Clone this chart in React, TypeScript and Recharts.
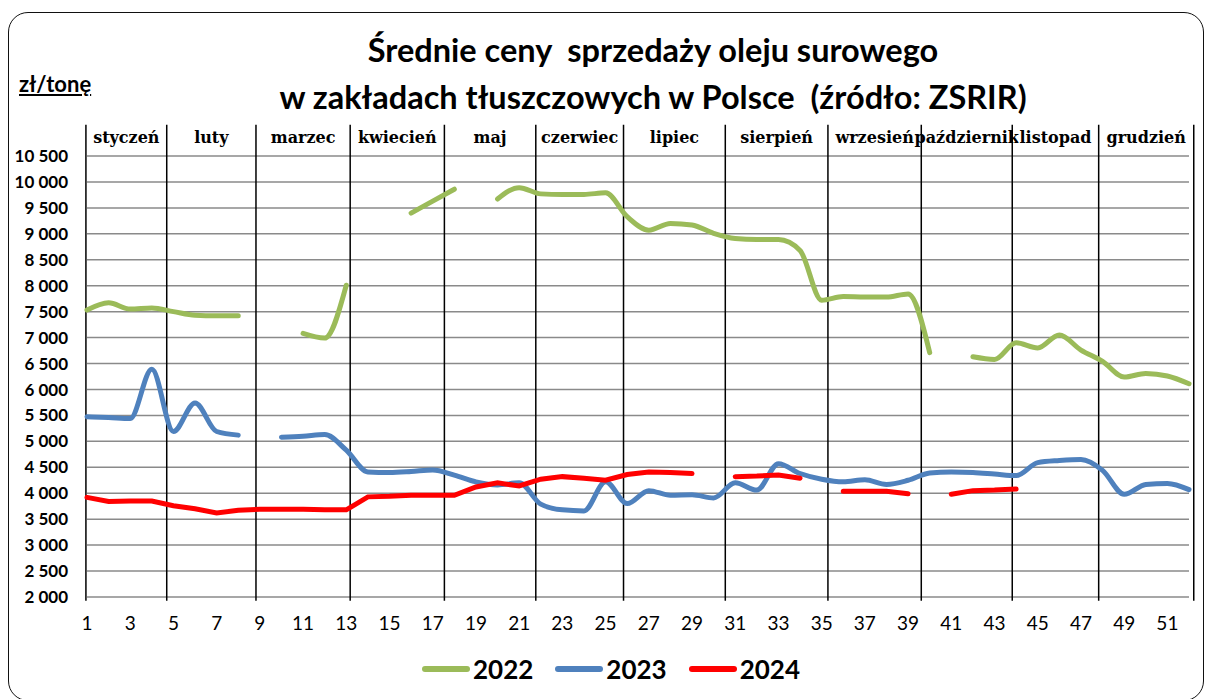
import { LineChart, Line, XAxis, YAxis, CartesianGrid, ReferenceLine, ReferenceArea } from "recharts";

// tygodnie 1..52
const weeks = [
  1, 2, 3, 4, 5, 6, 7, 8, 9, 10, 11, 12, 13, 14, 15, 16, 17, 18, 19, 20, 21, 22, 23, 24, 25, 26,
  27, 28, 29, 30, 31, 32, 33, 34, 35, 36, 37, 38, 39, 40, 41, 42, 43, 44, 45, 46, 47, 48, 49, 50, 51, 52,
];

const prices2022 = [
  7530, 7670, 7550, 7570, 7500, 7430, 7420, 7420, null, null, 7080, 6990, 8010, null, null, 9400,
  9630, 9860, null, 9670, 9890, 9770, 9760, 9760, 9790, 9330, 9070, 9200, 9170, 9010, 8910, 8890,
  8890, 8680, 7720, 7790, 7780, 7780, 7840, 6710, null, 6630, 6580, 6900, 6800, 7050, 6760, 6540,
  6240, 6310, 6260, 6110,
];

const prices2023 = [
  5475, 5460, 5440, 6390, 5190, 5740, 5190, 5120, null, 5080, 5100, 5130, 4830, 4410, 4400, 4420,
  4450, 4350, 4220, 4160, 4200, 3790, 3680, 3660, 4220, 3800, 4050, 3960, 3970, 3910, 4200, 4060,
  4570, 4380, 4270, 4220, 4260, 4170, 4250, 4390, 4410, 4400, 4370, 4340, 4590, 4630, 4650, 4440,
  3980, 4170, 4190, 4070,
];

const prices2024 = [
  3920, 3840, 3850, 3850, 3760, 3700, 3620, 3670, 3690, 3690, 3690, 3680, 3680, 3930, 3940, 3960,
  3960, 3960, 4120, 4200, 4140, 4270, 4320, 4290, 4250, 4360, 4410, 4400, 4380, null, 4320, 4330,
  4350, 4290, null, 4040, 4040, 4040, 3990, null, 3980, 4050, 4060, 4080, null, null, null, null,
  null, null, null, null,
];

const monthNames = [
  "styczeń", "luty", "marzec", "kwiecień", "maj", "czerwiec",
  "lipiec", "sierpień", "wrzesień", "październik", "listopad", "grudzień",
];
// granice miesięcy (w jednostkach tygodni)
const monthBounds = [0.95, 4.69, 8.82, 13.18, 17.54, 21.77, 25.83, 30.54, 35.29, 39.61, 43.82, 47.82, 52.22];

const xTicks = [1, 3, 5, 7, 9, 11, 13, 15, 17, 19, 21, 23, 25, 27, 29, 31, 33, 35, 37, 39, 41, 43, 45, 47, 49, 51];
const yTicks = [2000, 2500, 3000, 3500, 4000, 4500, 5000, 5500, 6000, 6500, 7000, 7500, 8000, 8500, 9000, 9500, 10000, 10500];

const series = [
  { key: "y2022", name: "2022", color: "#9BBB59", type: "monotone" as const },
  { key: "y2023", name: "2023", color: "#4F81BD", type: "monotone" as const },
  { key: "y2024", name: "2024", color: "#FF0000", type: "linear" as const },
];

const data = weeks.map((w, i) => ({
  week: w,
  y2022: prices2022[i],
  y2023: prices2023[i],
  y2024: prices2024[i],
}));

const fmt = (v: number) => String(v).replace(/\B(?=(\d{3})+(?!\d))/g, " ");

// etykieta miesiąca z białym tłem (jak w Excelu)
const MonthLabel = ({ viewBox, value }: any) => {
  if (!viewBox) return null;
  const cx = viewBox.x + viewBox.width / 2;
  const cy = viewBox.y + viewBox.height / 2;
  return (
    <text
      x={cx}
      y={cy}
      textAnchor="middle"
      dominantBaseline="central"
      fontFamily="DejaVu Serif"
      fontWeight="bold"
      fontSize={16}
      fill="#000"
      stroke="#fff"
      strokeWidth={3}
      paintOrder="stroke"
      strokeLinejoin="round"
    >
      {value}
    </text>
  );
};

export default function App() {
  return (
    <div style={{ position: "absolute", left: 0, top: 0, width: 1206, height: 699, overflow: "hidden", background: "#fff" }}>
      <div
        style={{
          position: "absolute",
          left: 8,
          top: 12,
          width: 1196,
          height: 689,
          border: "1.5px solid #111",
          borderRadius: 20,
          boxSizing: "border-box",
        }}
      />
      <div
        style={{
          position: "absolute",
          left: 100,
          width: 1106,
          top: 26,
          textAlign: "center",
          fontFamily: "Lato",
          fontWeight: "bold",
          fontSize: 32.5,
          lineHeight: "47px",
          whiteSpace: "pre",
          color: "#000",
        }}
      >
        <div>Średnie ceny  sprzedaży oleju surowego</div>
        <div>w zakładach tłuszczowych w Polsce  (źródło: ZSRIR)</div>
      </div>
      <div
        style={{
          position: "absolute",
          left: 19,
          top: 70,
          fontFamily: "Lato",
          fontWeight: "bold",
          fontSize: 22,
          textDecoration: "underline",
          color: "#000",
        }}
      >
        zł/tonę
      </div>

      <div style={{ position: "absolute", left: 0, top: 0 }}>
        <LineChart
          width={1206}
          height={699}
          data={data}
          margin={{ top: 156, right: 17, bottom: 72, left: 17 }}
        >
          <CartesianGrid vertical={false} stroke="#8a8a8a" strokeWidth={1.5} />
          <XAxis
            dataKey="week"
            type="number"
            domain={[1, 52]}
            ticks={xTicks}
            interval={0}
            axisLine={false}
            tickLine={false}
            tickSize={0}
            tickMargin={20}
            height={30}
            tick={{ fontFamily: "Lato", fontSize: 19, fill: "#000" }}
          />
          <YAxis
            type="number"
            domain={[2000, 10500]}
            ticks={yTicks}
            interval={0}
            width={70}
            axisLine={false}
            tickLine={false}
            tickSize={0}
            tickMargin={19}
            tickFormatter={fmt}
            tick={{ fontFamily: "Lato", fontWeight: "bold", fontSize: 17, fill: "#000" }}
          />
          {monthBounds.map((b) => (
            <ReferenceLine
              key={b}
              segment={[
                { x: b, y: 1930 },
                { x: b, y: 11100 },
              ]}
              ifOverflow="visible"
              stroke="#000"
              strokeWidth={1.5}
            />
          ))}
          {monthNames.map((m, i) => (
            <ReferenceArea
              key={m}
              x1={monthBounds[i]}
              x2={monthBounds[i + 1]}
              y1={10500}
              y2={11200}
              ifOverflow="visible"
              fill="none"
              stroke="none"
              label={<MonthLabel value={m} />}
            />
          ))}
          {series.map((s) => (
            <Line
              key={s.key}
              dataKey={s.key}
              name={s.name}
              type={s.type}
              stroke={s.color}
              strokeWidth={5}
              strokeLinecap="round"
              dot={false}
              activeDot={false}
              connectNulls={false}
              isAnimationActive={false}
            />
          ))}
        </LineChart>
      </div>

      <div style={{ position: "absolute", left: 422, top: 652, display: "flex", alignItems: "center" }}>
        {series.map((s) => (
          <div key={s.key} style={{ display: "flex", alignItems: "center", marginRight: 22 }}>
            <div style={{ width: 48, height: 6, borderRadius: 3, background: s.color }} />
            <span
              style={{
                marginLeft: 3,
                fontFamily: "Lato",
                fontWeight: "bold",
                fontSize: 26,
                lineHeight: "34px",
                color: "#000",
              }}
            >
              {s.name}
            </span>
          </div>
        ))}
      </div>
    </div>
  );
}
